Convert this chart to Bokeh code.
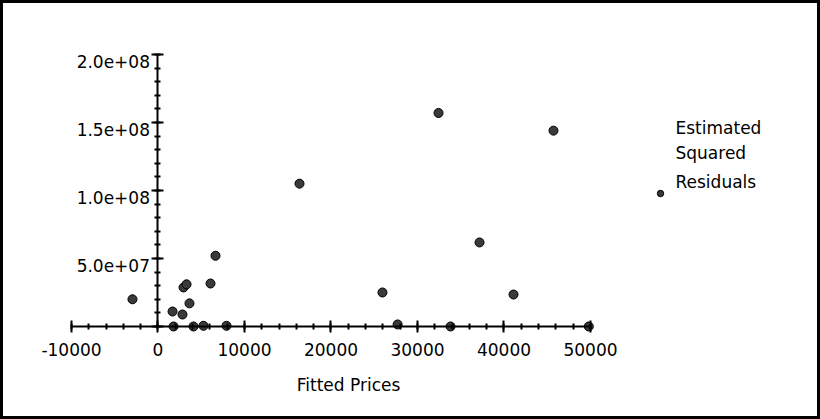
import numpy as np
from bokeh.plotting import figure
from bokeh.models import FixedTicker, Label, Legend, LegendItem
from bokeh.core.properties import value
from bokeh.embed import file_html
from bokeh.resources import INLINE

# ---- data ----
fitted_prices = [-2950, 6650, 6070, 2950, 3300, 3640, 1680, 2830, 1800, 4100,
                 5260, 7920, 16360, 25950, 27700, 33820, 32430, 37170, 41100,
                 45720, 49800]
sq_residuals = [20.0e6, 52.0e6, 31.6e6, 28.7e6, 31.0e6, 17.0e6, 11.0e6, 8.8e6,
                0.0, 0.0, 0.5e6, 0.5e6, 105.0e6, 25.0e6, 1.5e6, 0.0, 157.0e6,
                61.8e6, 23.5e6, 144.0e6, 0.0]

x_ticks = [-10000, 0, 10000, 20000, 30000, 40000, 50000]
x_tick_labels = ["-10000", "0", "10000", "20000", "30000", "40000", "50000"]
y_ticks = [0, 5e7, 1e8, 1.5e8, 2e8]
y_label_ticks = [5e7, 1e8, 1.5e8, 2e8]
y_tick_labels = ["5.0e+07", "1.0e+08", "1.5e+08", "2.0e+08"]
legend_lines = ["Estimated", "Squared", "Residuals"]
x_title = "Fitted Prices"

FONT = "DejaVu Sans"
FS = "17px"

W, H = 820, 419
p = figure(width=W, height=H, output_backend="svg", toolbar_location=None,
           x_range=(-18208, 76590), y_range=(-68.4e6, 239.7e6),
           min_border=0)
p.grid.visible = False
p.background_fill_color = "white"
p.border_fill_color = "white"
p.outline_line_color = "black"
p.outline_line_width = 5

# x axis crossing at y = 0
xa = p.xaxis[0]
xa.fixed_location = 0
xa.bounds = (x_ticks[0], x_ticks[-1])
xa.ticker = FixedTicker(ticks=x_ticks,
                        minor_ticks=list(np.arange(x_ticks[0], x_ticks[-1] + 1, 2000)))
xa.major_label_overrides = {t: l for t, l in zip(x_ticks, x_tick_labels)}

# y axis crossing at x = 0
ya = p.yaxis[0]
ya.fixed_location = 0
ya.bounds = (y_ticks[0], y_ticks[-1])
ya.ticker = FixedTicker(ticks=y_ticks,
                        minor_ticks=list(np.arange(y_ticks[0], y_ticks[-1] + 1, 1e7)))
ya.major_label_overrides = {t: "" for t in y_ticks}

for ax in (xa, ya):
    ax.axis_line_color = "black"
    ax.axis_line_width = 2
    ax.major_tick_line_color = "black"
    ax.major_tick_line_width = 2
    ax.minor_tick_line_color = "black"
    ax.minor_tick_line_width = 2
    ax.major_tick_in = 6
    ax.major_tick_out = 6
    ax.minor_tick_in = 3
    ax.minor_tick_out = 3
    ax.major_label_text_font = FONT
    ax.major_label_text_font_size = FS
    ax.major_label_text_color = "black"

xa.major_label_standoff = 11

# y tick labels (sit a little below their ticks, as in the original)
p.text(x=[0] * len(y_label_ticks), y=y_label_ticks, text=y_tick_labels,
       x_offset=-8, y_offset=7, text_align="right", text_baseline="middle",
       text_font=value(FONT), text_font_size=FS, text_color="black")

# x axis title
p.add_layout(Label(x=348, y=35, x_units="screen", y_units="screen", text=x_title,
                   text_font=FONT, text_font_size=FS, text_color="black",
                   text_align="center", text_baseline="alphabetic"))

r = p.scatter(fitted_prices, sq_residuals, size=9, marker="circle",
              fill_color="#3a3a3a", line_color="black", line_width=1)

# legend text lines
ys = [292, 267, 238]
for txt, yy in zip(legend_lines, ys):
    p.add_layout(Label(x=675, y=yy, x_units="screen", y_units="screen", text=txt,
                       text_font=FONT, text_font_size=FS, text_color="black",
                       text_baseline="alphabetic", text_align="left"))

leg = Legend(items=[LegendItem(label=" ", renderers=[r])], location=(652, 218),
             glyph_width=16, glyph_height=16, label_height=16, label_width=1,
             label_standoff=0, padding=0, margin=0, spacing=0,
             border_line_color=None, background_fill_alpha=0,
             label_text_font_size="1px")
p.add_layout(leg, "center")

open("out.html", "w").write(file_html(p, INLINE))
